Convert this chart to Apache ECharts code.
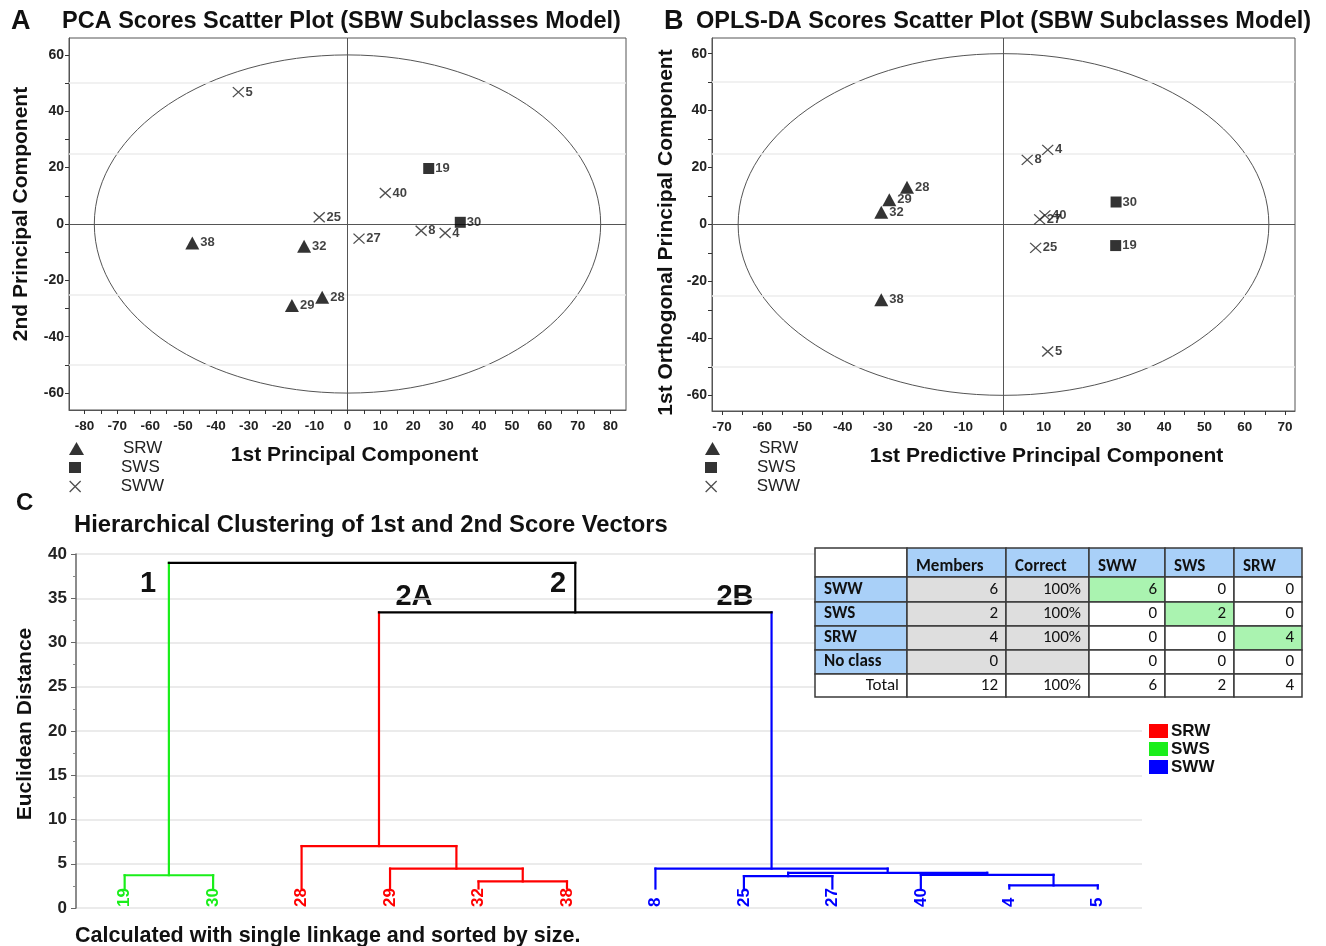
<!DOCTYPE html>
<html>
<head>
<meta charset="utf-8">
<script src="https://cdn.jsdelivr.net/npm/echarts@6/dist/echarts.min.js"></script>
<style>
  html, body { margin: 0; padding: 0; background: #fff; }
  #main { width: 1326px; height: 946px; }
</style>
</head>
<body>
<div id="main"></div>
<script>
// ---- A: PCA scores [t1, t2, sample] ----
const pcaSRW = [[-47.2, -6.7, '38'], [-13.2, -7.9, '32'], [-7.7, -26.0, '28'], [-16.9, -28.9, '29']];
const pcaSWS = [[24.7, 19.7, '19'], [34.3, 0.6, '30']];
const pcaSWW = [[-33.2, 46.8, '5'], [11.5, 11.0, '40'], [-8.6, 2.4, '25'], [3.5, -5.2, '27'], [22.4, -2.4, '8'], [29.7, -3.2, '4']];
// ---- B: OPLS-DA scores [tp, to, sample] ----
const oplsSRW = [[-24.0, 13.1, '28'], [-28.4, 8.7, '29'], [-30.4, 4.3, '32'], [-30.4, -26.4, '38']];
const oplsSWS = [[28.0, 7.9, '30'], [27.9, -7.4, '19']];
const oplsSWW = [[11.0, 26.2, '4'], [5.9, 22.7, '8'], [10.3, 3.2, '40'], [9.0, 1.8, '27'], [8.0, -8.2, '25'], [11.0, -44.6, '5']];
// Hotelling T2 ellipse half axes
const pcaEllipse = [77, 60];
const oplsEllipse = [66, 60];

// ---- C: dendrogram ----
const leafNames = ['19', '30', '28', '29', '32', '38', '8', '25', '27', '40', '4', '5'];
const leafClass = ['SWS', 'SWS', 'SRW', 'SRW', 'SRW', 'SRW', 'SWW', 'SWW', 'SWW', 'SWW', 'SWW', 'SWW'];
// [node a, node b, distance]; merged nodes get ids 12, 13, ...
const merges = [
  [0, 1, 3.7],
  [4, 5, 3.0],
  [3, 13, 4.45],
  [2, 14, 7.0],
  [10, 11, 2.55],
  [7, 8, 3.6],
  [9, 16, 3.75],
  [17, 18, 3.98],
  [6, 19, 4.45],
  [15, 20, 33.4],
  [12, 21, 39.0]
];
const leafBase = 2.2;

// ---- classification table ----
const tableHead = ['', 'Members', 'Correct', 'SWW', 'SWS', 'SRW'];
const tableRows = ['SWW', 'SWS', 'SRW', 'No class', 'Total'];
const members = [6, 2, 4, 0, 12];
const correct = ['100%', '100%', '100%', '', '100%'];
const predicted = [[6, 0, 0], [0, 2, 0], [0, 0, 4], [0, 0, 0], [6, 2, 4]];

// layout / style
const FONT = '"Liberation Sans", Arial, sans-serif';
const TABLE_FONT = 'Carlito, Lato, sans-serif';
const CLASS_COLOR = { SRW: '#ff0000', SWS: '#1aee1a', SWW: '#0000ff' };
const CROSS = 'path://M0,0L10,10M10,0L0,10';
const colEdges = [0, 92, 191, 274, 350, 419, 487];
const rowEdges = [0, 29, 54, 78, 102, 126, 149];

const steps = (a, b, s) => { const r = []; for (let v = a; v <= b + 1e-9; v += s) r.push(v); return r; };

const chart = echarts.init(document.getElementById('main'));

// score plot axes
function scoreX(grid, half, labels, name, shift) {
  return {
    type: 'value', gridIndex: grid, min: -half, max: half,
    name: name, nameLocation: 'middle', nameGap: 35,
    nameTextStyle: { fontFamily: FONT, fontWeight: 'bold', fontSize: 21, color: '#111', padding: [0, 0, 0, shift * 2] },
    axisLine: { show: true, onZero: false, lineStyle: { color: '#555' } },
    axisTick: { show: true, length: 4, customValues: steps(labels[0], labels[1], 5), lineStyle: { color: '#333' } },
    axisLabel: { customValues: steps(labels[0], labels[1], 10), fontFamily: FONT, fontWeight: 'bold', fontSize: 13.5, color: '#222', margin: 9 },
    splitLine: { show: false }
  };
}
function scoreY(grid, half, name, gap, pad) {
  return {
    type: 'value', gridIndex: grid, min: -half, max: half,
    name: name, nameLocation: 'middle', nameGap: gap, nameRotate: 90,
    nameTextStyle: { fontFamily: FONT, fontWeight: 'bold', fontSize: 21, color: '#111', padding: pad },
    axisLine: { show: true, onZero: false, lineStyle: { color: '#555' } },
    axisTick: { show: true, length: 4, customValues: steps(-60, 60, 10), lineStyle: { color: '#333' } },
    axisLabel: { customValues: steps(-60, 60, 20), fontFamily: FONT, fontWeight: 'bold', fontSize: 14, color: '#222', margin: 5 },
    splitLine: { show: false }
  };
}

function refLines() {
  const faint = { color: '#ececec', width: 1.5, type: 'solid' };
  const dark = { color: '#555', width: 1, type: 'solid' };
  return {
    silent: true, symbol: ['none', 'none'], label: { show: false }, animation: false,
    data: [
      { yAxis: 50, lineStyle: faint }, { yAxis: 25, lineStyle: faint },
      { yAxis: -25, lineStyle: faint }, { yAxis: -50, lineStyle: faint },
      { xAxis: 0, lineStyle: dark }, { yAxis: 0, lineStyle: dark }
    ]
  };
}

function ellipseSeries(grid, axes) {
  return {
    type: 'custom', xAxisIndex: grid, yAxisIndex: grid, silent: true, z: 1,
    data: [[0, 0]],
    renderItem: (params, api) => {
      const c = api.coord([0, 0]);
      const s = api.size([axes[0], axes[1]]);
      return { type: 'ellipse', shape: { cx: c[0], cy: c[1], rx: s[0], ry: s[1] },
        style: { fill: 'none', stroke: '#555', lineWidth: 1 } };
    },
    markLine: refLines()
  };
}

function pointLabel() {
  return { show: true, position: 'right', distance: 1, formatter: p => p.value[2],
    fontFamily: FONT, fontWeight: 'bold', fontSize: 13, color: '#111' };
}
function scoreSeries(grid, srw, sws, sww) {
  return [
    { name: 'SRW', type: 'scatter', xAxisIndex: grid, yAxisIndex: grid, data: srw, symbol: 'triangle', symbolSize: [14, 13],
      itemStyle: { color: '#000' }, label: pointLabel(), z: 10 },
    { name: 'SWS', type: 'scatter', xAxisIndex: grid, yAxisIndex: grid, data: sws, symbol: 'rect', symbolSize: 11,
      itemStyle: { color: '#000' }, label: pointLabel(), z: 10 },
    { name: 'SWW', type: 'scatter', xAxisIndex: grid, yAxisIndex: grid, data: sww, symbol: CROSS, symbolSize: [11, 10],
      itemStyle: { color: 'transparent', borderColor: '#222', borderWidth: 1.3 }, label: pointLabel(), z: 10 }
  ];
}

function classLegends(left, top) {
  const base = { orient: 'vertical', left: left, padding: 0, selectedMode: false,
    textStyle: { fontFamily: FONT, fontSize: 17, color: '#222', padding: [0, 0, 0, 34] } };
  return [
    Object.assign({}, base, { top: top, itemWidth: 15, itemHeight: 13, data: [{ name: 'SRW', icon: 'triangle' }] }),
    Object.assign({}, base, { top: top + 19, itemWidth: 12, itemHeight: 11, textStyle: Object.assign({}, base.textStyle, { padding: [0, 0, 0, 35] }),
      data: [{ name: 'SWS', icon: 'rect' }] }),
    Object.assign({}, base, { top: top + 38, itemWidth: 13, itemHeight: 11, textStyle: Object.assign({}, base.textStyle, { padding: [0, 0, 0, 34] }),
      data: [{ name: 'SWW', icon: CROSS, itemStyle: { color: 'transparent', borderColor: '#222', borderWidth: 1.3 } }] })
  ];
}

// ---- dendrogram segments from merges ----
const nodePos = leafNames.map((_, i) => i + 1);
const nodeH = leafNames.map(() => leafBase);
const nodeColor = leafClass.map(c => CLASS_COLOR[c]);
const segments = [];
merges.forEach(([a, b, h]) => {
  const id = nodePos.length;
  nodePos[id] = (nodePos[a] + nodePos[b]) / 2;
  nodeH[id] = h;
  nodeColor[id] = nodeColor[a] === nodeColor[b] ? nodeColor[a] : '#000';
  segments.push({ value: [nodePos[a], nodeH[a], nodePos[a], h], color: nodeColor[a] });
  segments.push({ value: [nodePos[b], nodeH[b], nodePos[b], h], color: nodeColor[b] });
  segments.push({ value: [nodePos[a], h, nodePos[b], h], color: nodeColor[id] });
});

// ---- table cells ----
const HEAD_BLUE = '#a9d0f8', GRAY = '#dedede', GREEN = '#aaf3b0';
const cells = [];
tableHead.forEach((h, c) => cells.push({ c: c, r: 0, text: h, fill: c === 0 ? '#fff' : HEAD_BLUE, align: 'left', bold: true }));
tableRows.forEach((name, i) => {
  const r = i + 1, total = name === 'Total';
  cells.push({ c: 0, r: r, text: name, fill: total ? '#fff' : HEAD_BLUE, align: total ? 'right' : 'left', bold: !total });
  cells.push({ c: 1, r: r, text: String(members[i]), fill: total ? '#fff' : GRAY, align: 'right' });
  cells.push({ c: 2, r: r, text: correct[i], fill: total ? '#fff' : GRAY, align: 'right' });
  predicted[i].forEach((v, j) => cells.push({ c: 3 + j, r: r, text: String(v), fill: !total && i === j ? GREEN : '#fff', align: 'right' }));
});

const tag = (text, x, y) => ({ type: 'text', x: x, y: y,
  style: { text: text, font: 'bold 29px ' + FONT, fill: '#111', align: 'center', verticalAlign: 'middle', textAlign: 'center', textVerticalAlign: 'middle' } });

const option = {
  backgroundColor: '#fff',
  animation: false,
  title: [
    { text: 'A', left: 11, top: 8, padding: 0, textStyle: { fontFamily: FONT, fontWeight: 'bold', fontSize: 27, color: '#111' } },
    { text: 'PCA Scores Scatter Plot (SBW Subclasses Model)', left: 62, top: 10, padding: 0,
      textStyle: { fontFamily: FONT, fontWeight: 'bold', fontSize: 23.5, color: '#111' } },
    { text: 'B', left: 664, top: 8, padding: 0, textStyle: { fontFamily: FONT, fontWeight: 'bold', fontSize: 27, color: '#111' } },
    { text: 'OPLS-DA Scores Scatter Plot (SBW Subclasses Model)', left: 696, top: 10, padding: 0,
      textStyle: { fontFamily: FONT, fontWeight: 'bold', fontSize: 23.5, color: '#111' } },
    { text: 'C', left: 16, top: 491, padding: 0, textStyle: { fontFamily: FONT, fontWeight: 'bold', fontSize: 24, color: '#111' } },
    { text: 'Hierarchical Clustering of 1st and 2nd Score Vectors', left: 74, top: 513, padding: 0,
      textStyle: { fontFamily: FONT, fontWeight: 'bold', fontSize: 23.8, color: '#111' } },
    { text: 'Calculated with single linkage and sorted by size.', left: 75, top: 925, padding: 0,
      textStyle: { fontFamily: FONT, fontWeight: 'bold', fontSize: 21.5, color: '#111' } }
  ],
  legend: classLegends(69, 440).concat(classLegends(705, 440)),
  grid: [
    { left: 69, top: 38, width: 557, height: 372, show: true, borderColor: '#555', borderWidth: 1, backgroundColor: '#fff' },
    { left: 712, top: 38, width: 583, height: 373, show: true, borderColor: '#555', borderWidth: 1, backgroundColor: '#fff' },
    { left: 76, top: 554, width: 1066, height: 354 },
    { left: 815, top: 548, width: 487, height: 149 }
  ],
  xAxis: [
    scoreX(0, 84.7, [-80, 80], '1st Principal Component', 7),
    scoreX(1, 72.5, [-70, 70], '1st Predictive Principal Component', 43),
    { type: 'value', gridIndex: 2, min: 0.45, max: 12.5, show: false },
    { type: 'value', gridIndex: 3, min: 0, max: 487, show: false }
  ],
  yAxis: [
    scoreY(0, 66, '2nd Principal Component', 37, [0, 0, 0, 20]),
    scoreY(1, 65.5, '1st Orthogonal Principal Component', 35, [0, 16, 0, 0]),
    {
      type: 'value', gridIndex: 2, min: 0, max: 40, interval: 5,
      name: 'Euclidean Distance', nameLocation: 'middle', nameGap: 40, nameRotate: 90,
      nameTextStyle: { fontFamily: FONT, fontWeight: 'bold', fontSize: 21, color: '#111', padding: [0, 0, 0, 14] },
      axisLine: { show: true, lineStyle: { color: '#666', width: 1.5 } },
      axisTick: { show: true, length: 5, lineStyle: { color: '#666' } },
      minorTick: { show: true, splitNumber: 2, length: 3, lineStyle: { color: '#888' } },
      axisLabel: { fontFamily: FONT, fontWeight: 'bold', fontSize: 17, color: '#222', margin: 9 },
      splitLine: { show: true, lineStyle: { color: '#e4e4e4', width: 1.5 } }
    },
    { type: 'value', gridIndex: 3, min: 0, max: 149, inverse: true, show: false }
  ],
  series: [
    ellipseSeries(0, pcaEllipse),
    ...scoreSeries(0, pcaSRW, pcaSWS, pcaSWW),
    ellipseSeries(1, oplsEllipse),
    ...scoreSeries(1, oplsSRW, oplsSWS, oplsSWW),
    {
      type: 'custom', xAxisIndex: 2, yAxisIndex: 2, silent: true, clip: false,
      encode: { x: [0, 2], y: [1, 3] },
      data: segments,
      renderItem: (params, api) => {
        const p0 = api.coord([api.value(0), api.value(1)]);
        const p1 = api.coord([api.value(2), api.value(3)]);
        return { type: 'line', shape: { x1: p0[0], y1: p0[1], x2: p1[0], y2: p1[1] },
          style: { stroke: segments[params.dataIndex].color, lineWidth: 2.2, lineCap: 'square' } };
      }
    },
    {
      type: 'custom', xAxisIndex: 2, yAxisIndex: 2, silent: true, clip: false,
      data: leafNames.map((n, i) => [i + 1, 0]),
      renderItem: (params, api) => {
        const p = api.coord([api.value(0), 0]);
        return { type: 'text', x: p[0], y: p[1] - 1, rotation: Math.PI / 2,
          style: { text: leafNames[params.dataIndex], fill: CLASS_COLOR[leafClass[params.dataIndex]],
            font: 'bold 17px ' + FONT, align: 'left', verticalAlign: 'middle', textAlign: 'left', textVerticalAlign: 'middle' } };
      }
    },
    {
      type: 'custom', xAxisIndex: 3, yAxisIndex: 3, silent: true, clip: false,
      encode: { x: [0, 2], y: [1, 3] },
      data: cells.map(c => [colEdges[c.c], rowEdges[c.r], colEdges[c.c + 1], rowEdges[c.r + 1]]),
      renderItem: (params, api) => {
        const cell = cells[params.dataIndex];
        const p0 = api.coord([api.value(0), api.value(1)]);
        const p1 = api.coord([api.value(2), api.value(3)]);
        const tx = cell.align === 'left' ? p0[0] + 9 : p1[0] - 8;
        const ty = cell.r === 0 ? p1[1] - 10 : (p0[1] + p1[1]) / 2;
        return { type: 'group', children: [
          { type: 'rect', shape: { x: p0[0], y: p0[1], width: p1[0] - p0[0], height: p1[1] - p0[1] },
            style: { fill: cell.fill, stroke: '#3a3a3a', lineWidth: 1.5 } },
          { type: 'text', x: tx, y: ty,
            style: { text: cell.text, fill: '#111', font: (cell.bold ? 'bold ' : '') + '17px ' + TABLE_FONT,
              align: cell.align, verticalAlign: 'middle', textAlign: cell.align, textVerticalAlign: 'middle' } }
        ] };
      }
    }
  ],
  graphic: [
    tag('1', 148, 584), tag('2A', 414, 597), tag('2', 558, 584), tag('2B', 735, 597),
    { type: 'rect', shape: { x: 1149, y: 724, width: 19, height: 14 }, style: { fill: CLASS_COLOR.SRW } },
    { type: 'rect', shape: { x: 1149, y: 742, width: 19, height: 14 }, style: { fill: CLASS_COLOR.SWS } },
    { type: 'rect', shape: { x: 1149, y: 760, width: 19, height: 14 }, style: { fill: CLASS_COLOR.SWW } },
    { type: 'text', x: 1171, y: 731, style: { text: 'SRW', font: 'bold 17px ' + FONT, fill: '#111', verticalAlign: 'middle', textVerticalAlign: 'middle' } },
    { type: 'text', x: 1171, y: 749, style: { text: 'SWS', font: 'bold 17px ' + FONT, fill: '#111', verticalAlign: 'middle', textVerticalAlign: 'middle' } },
    { type: 'text', x: 1171, y: 767, style: { text: 'SWW', font: 'bold 17px ' + FONT, fill: '#111', verticalAlign: 'middle', textVerticalAlign: 'middle' } }
  ]
};

chart.setOption(option);
</script>
</body>
</html>
